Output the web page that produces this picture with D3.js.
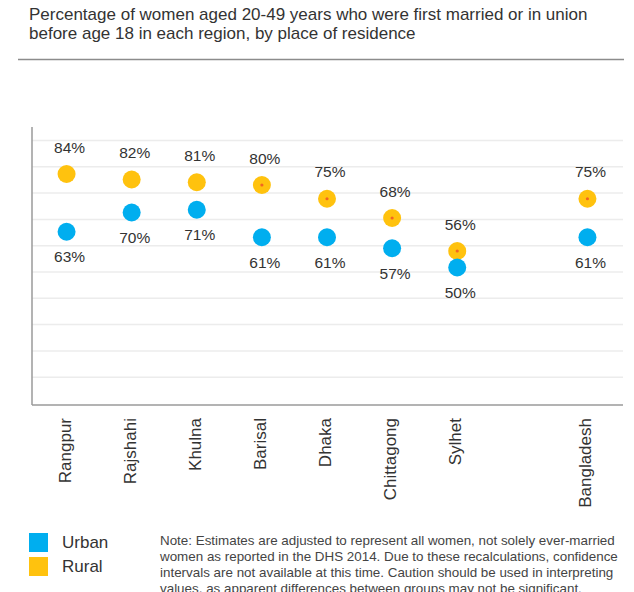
<!DOCTYPE html>
<html><head><meta charset="utf-8">
<script src="https://cdn.jsdelivr.net/npm/d3@7"></script>
<style>
body{margin:0;background:#fff}
svg{display:block}
text{font-family:'Liberation Sans',Arial,Helvetica,sans-serif}
</style>
</head><body>
<svg id="chart" width="634" height="592"></svg>
<script>
// ---- data ----
const regions = ["Rangpur","Rajshahi","Khulna","Barisal","Dhaka","Chittagong","Sylhet","Bangladesh"];
const urbanValues = [63,70,71,61,61,57,50,61];
const ruralValues = [84,82,81,80,75,68,56,75];
const ruralMarked = [false,false,false,true,true,true,true,true];
const gridTicks = [10,20,30,40,50,60,70,80,90,100];
const legendItems = ["Urban","Rural"];
const titleLines = [
  "Percentage of women aged 20-49 years who were first married or in union",
  "before age 18 in each region, by place of residence"
];
const noteLines = [
  "Note: Estimates are adjusted to represent all women, not solely ever-married",
  "women as reported in the DHS 2014. Due to these recalculations, confidence",
  "intervals are not available at this time. Caution should be used in interpreting",
  "values, as apparent differences between groups may not be significant."
];

// ---- layout ----
const W = 634, H = 592;
const plotLeft = 32, plotRight = 623, plotTop = 127, plotBottom = 405;
const colors = {Urban: "#00aeef", Rural: "#ffc20e"};
const markColor = "#f26522";
const textColor = "#333";

const svg = d3.select("#chart");
svg.append("rect").attr("width", W).attr("height", H).attr("fill", "#fff");

// title
const title = svg.append("text").attr("font-size", 17).attr("fill", textColor);
titleLines.forEach((t, i) => {
  title.append("tspan").attr("x", 29).attr("y", 20 + i * 19).text(t);
});
svg.append("line").attr("x1", 18).attr("x2", 624).attr("y1", 59.5).attr("y2", 59.5)
  .attr("stroke", "#8c8c8c").attr("stroke-width", 1.5);

// scales
const slots = [...regions.slice(0, 7), "", regions[7]];
const x = d3.scaleBand().domain(slots).range([34, 620]).padding(0);
const y = d3.scaleLinear().domain([0, 100]).range([plotBottom, 130]);
const gridScale = d3.scaleLinear().domain([0, 100]).range([403, 140]);

// gridlines
const grid = svg.append("g").attr("transform", `translate(${plotLeft},0)`)
  .call(d3.axisLeft(gridScale).tickValues(gridTicks).tickSize(-(plotRight - plotLeft)).tickFormat(""));
grid.select(".domain").remove();
grid.selectAll(".tick line").attr("stroke", "#ececec").attr("stroke-width", 1.5);

// axes lines
svg.append("line").attr("x1", plotLeft).attr("x2", plotLeft).attr("y1", plotTop).attr("y2", plotBottom)
  .attr("stroke", "#9a9a9a").attr("stroke-width", 1.5);
svg.append("line").attr("x1", plotLeft).attr("x2", plotRight).attr("y1", plotBottom).attr("y2", plotBottom)
  .attr("stroke", "#9a9a9a").attr("stroke-width", 1.5);

// x axis labels
const xAxis = svg.append("g").attr("transform", `translate(0,${plotBottom})`)
  .call(d3.axisBottom(x).tickValues(regions).tickSize(0));
xAxis.select(".domain").remove();
xAxis.selectAll(".tick text")
  .attr("transform", "rotate(-90)")
  .attr("text-anchor", "end")
  .attr("x", -13).attr("y", 4).attr("dy", 0)
  .attr("font-size", 17)
  .attr("font-family", "'Liberation Sans',Arial,sans-serif")
  .attr("fill", textColor);

const cx = r => x(r) + x.bandwidth() / 2;
const data = regions.map((r, i) => ({region: r, urban: urbanValues[i], rural: ruralValues[i], mark: ruralMarked[i]}));

// rural points
svg.append("g").selectAll("circle").data(data).join("circle")
  .attr("cx", d => cx(d.region)).attr("cy", d => y(d.rural)).attr("r", 9)
  .attr("fill", colors.Rural);
svg.append("g").selectAll("circle").data(data.filter(d => d.mark)).join("circle")
  .attr("cx", d => cx(d.region)).attr("cy", d => y(d.rural)).attr("r", 1.6)
  .attr("fill", markColor);
// urban points
svg.append("g").selectAll("circle").data(data).join("circle")
  .attr("cx", d => cx(d.region)).attr("cy", d => y(d.urban)).attr("r", 9)
  .attr("fill", colors.Urban);

// value labels
svg.append("g").selectAll("text").data(data).join("text")
  .attr("x", d => cx(d.region) + 3).attr("y", d => y(d.rural) - 21.5)
  .attr("text-anchor", "middle").attr("font-size", 15.5).attr("fill", textColor)
  .text(d => d.rural + "%");
svg.append("g").selectAll("text").data(data).join("text")
  .attr("x", d => cx(d.region) + 3).attr("y", d => y(d.urban) + 30.5)
  .attr("text-anchor", "middle").attr("font-size", 15.5).attr("fill", textColor)
  .text(d => d.urban + "%");

// legend
const legend = svg.append("g").selectAll("g").data(legendItems).join("g")
  .attr("transform", (d, i) => `translate(29,${533 + i * 24})`);
legend.append("rect").attr("width", 19).attr("height", 19).attr("fill", d => colors[d]);
legend.append("text").attr("x", 33).attr("y", 15).attr("font-size", 17).attr("fill", textColor).text(d => d);

// note
const note = svg.append("text").attr("font-size", 13.4).attr("fill", "#444");
noteLines.forEach((t, i) => {
  note.append("tspan").attr("x", 160).attr("y", 545 + i * 16).text(t);
});
</script>
</body></html>
